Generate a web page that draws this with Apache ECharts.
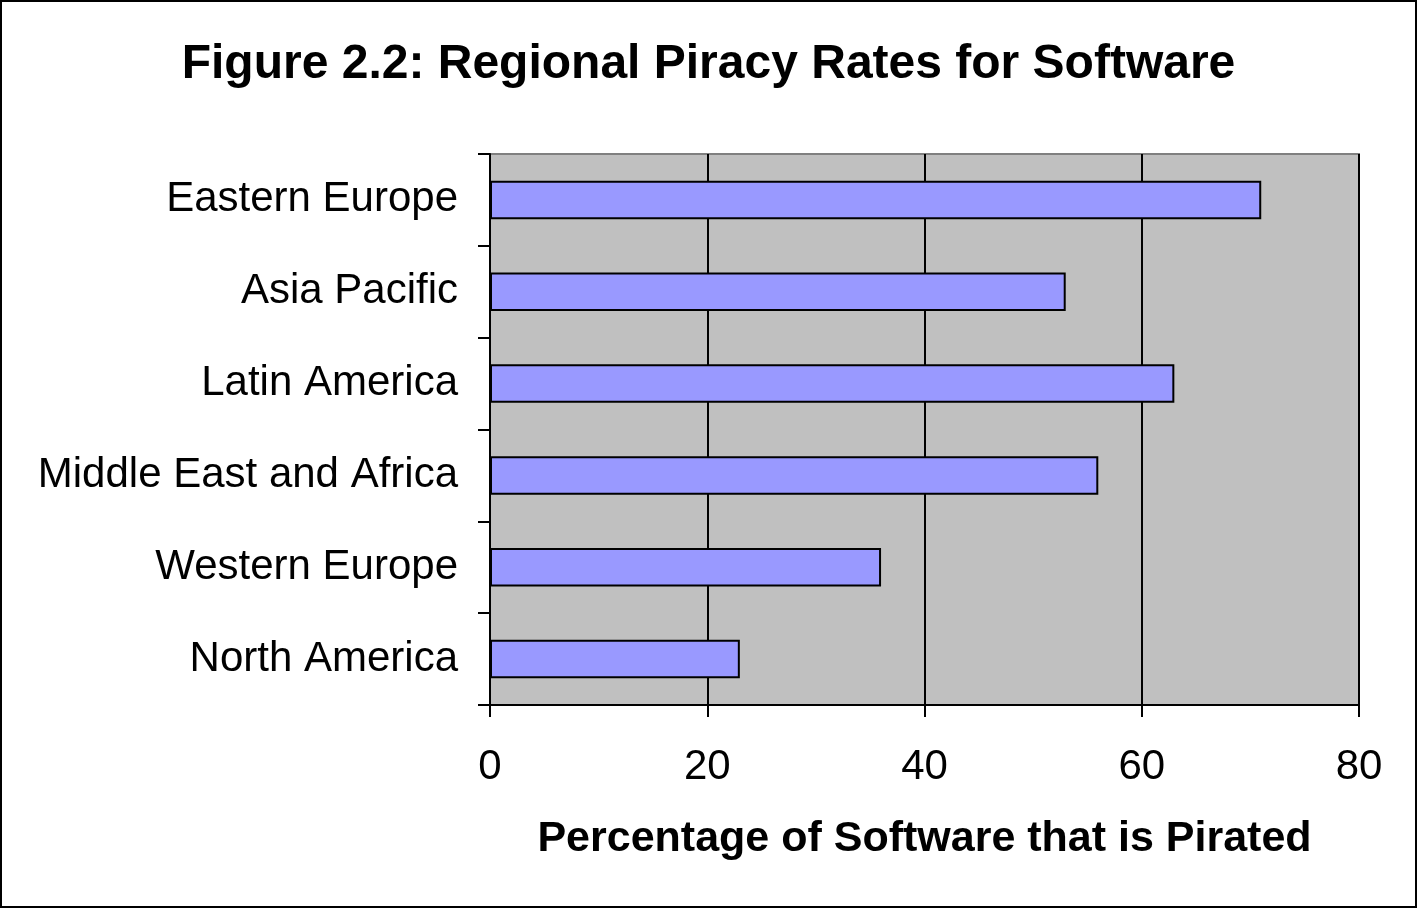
<!DOCTYPE html>
<html><head><meta charset="utf-8">
<script src="https://cdn.jsdelivr.net/npm/echarts@6/dist/echarts.min.js"></script>
<style>html,body{margin:0;padding:0;background:#fff}#c{width:1417px;height:908px;box-sizing:border-box;border:2px solid #000}</style>
</head><body><div id="c"></div>
<script>
const categories = ["North America","Western Europe","Middle East and Africa","Latin America","Asia Pacific","Eastern Europe"];
const values = [23, 36, 56, 63, 53, 71];
const titleText = "Figure 2.2: Regional Piracy Rates for Software";
const xName = "Percentage of Software that is Pirated";

const chart = echarts.init(document.getElementById('c'), null, {renderer:'canvas'});
chart.setOption({
  backgroundColor:'#fff',
  animation:false,
  title:{text:titleText,left:'center',top:34,textStyle:{fontFamily:'Liberation Sans, Arial',fontWeight:'bold',fontSize:48,color:'#000'}},
  grid:{left:488,right:56,top:152,bottom:201,show:true,backgroundColor:'#C0C0C0',borderColor:'#808080',borderWidth:2},
  xAxis:{type:'value',min:0,max:80,interval:20,
    name:xName,nameLocation:'middle',nameGap:113,
    nameTextStyle:{fontFamily:'Liberation Sans, Arial',fontWeight:'bold',fontSize:43,color:'#000'},
    axisLine:{show:true,lineStyle:{color:'#000',width:2}},
    axisTick:{show:true,length:12,lineStyle:{color:'#000',width:2}},
    axisLabel:{fontFamily:'Liberation Sans, Arial',fontSize:42,color:'#000',margin:41},
    splitLine:{show:true,lineStyle:{color:'#000',width:2}}},
  yAxis:{type:'category',data:categories,
    axisLine:{show:true,lineStyle:{color:'#000',width:2}},
    axisTick:{show:true,length:12,lineStyle:{color:'#000',width:2}},
    axisLabel:{fontFamily:'Liberation Sans, Arial',fontSize:42,color:'#000',margin:32,padding:[5,0,0,0]}},
  series:[{type:'bar',data:values,barWidth:'42%',
    itemStyle:{color:'#9999FF',borderColor:'#000',borderWidth:2}}]
});
</script></body></html>
